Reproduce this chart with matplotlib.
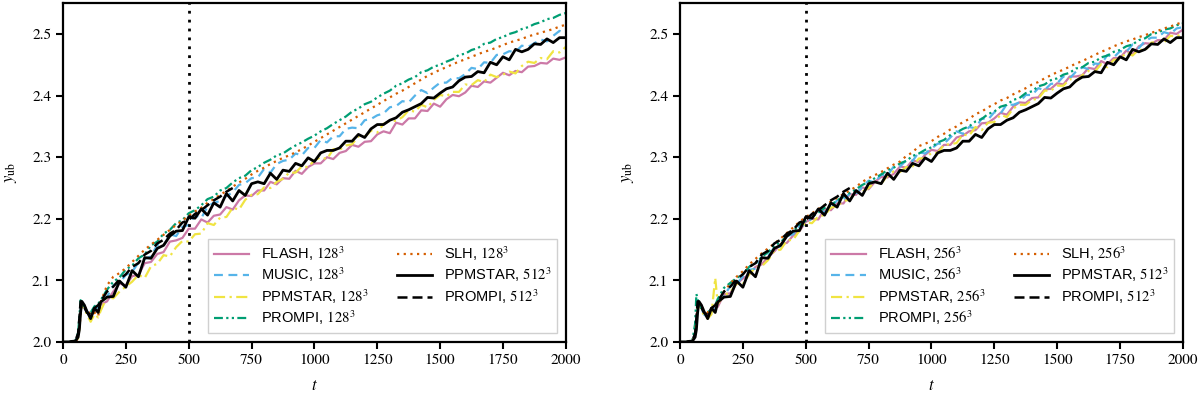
import numpy as np
import matplotlib.pyplot as plt
from matplotlib.font_manager import FontProperties

plt.rcParams['font.family'] = 'STIXGeneral'
plt.rcParams['mathtext.fontset'] = 'stix'

# time grid: dense around the initial kick, then every 25 time units
t = np.array([0, 25, 50, 60, 65, 70, 75, 85, 95, 110, 125, 140] + list(range(150, 2001, 25)))

# ---- 128^3 runs (left panel) ----
flash_128 = [2.000, 2.000, 2.002, 2.009, 2.028, 2.055, 2.064, 2.057, 2.048, 2.042, 2.050, 2.052,
             2.061, 2.066, 2.082, 2.095, 2.092, 2.107, 2.109, 2.128, 2.130, 2.143,
             2.146, 2.163, 2.165, 2.169, 2.184, 2.184, 2.199, 2.194, 2.205, 2.207,
             2.219, 2.215, 2.230, 2.238, 2.237, 2.246, 2.246, 2.260, 2.256, 2.266,
             2.265, 2.278, 2.273, 2.284, 2.290, 2.290, 2.300, 2.297, 2.307, 2.310,
             2.320, 2.317, 2.325, 2.326, 2.337, 2.342, 2.339, 2.356, 2.353, 2.363,
             2.363, 2.376, 2.375, 2.387, 2.382, 2.394, 2.401, 2.399, 2.405, 2.416,
             2.414, 2.423, 2.421, 2.429, 2.437, 2.433, 2.440, 2.438, 2.447, 2.448,
             2.453, 2.452, 2.460, 2.458, 2.462]
music_128 = [2.000, 2.000, 2.002, 2.010, 2.030, 2.058, 2.064, 2.058, 2.050, 2.045, 2.052, 2.058,
             2.063, 2.073, 2.092, 2.096, 2.109, 2.114, 2.129, 2.135, 2.139, 2.158,
             2.156, 2.175, 2.172, 2.187, 2.190, 2.206, 2.201, 2.220, 2.226, 2.229,
             2.237, 2.243, 2.255, 2.258, 2.266, 2.267, 2.281, 2.275, 2.289, 2.294,
             2.296, 2.306, 2.303, 2.315, 2.315, 2.328, 2.324, 2.334, 2.334, 2.346,
             2.348, 2.347, 2.360, 2.362, 2.368, 2.371, 2.381, 2.383, 2.391, 2.389,
             2.400, 2.409, 2.404, 2.413, 2.421, 2.421, 2.429, 2.428, 2.435, 2.445,
             2.443, 2.454, 2.453, 2.466, 2.467, 2.472, 2.471, 2.481, 2.479, 2.485,
             2.491, 2.488, 2.497, 2.505, 2.500]
ppmstar_128 = [2.000, 2.000, 2.001, 2.006, 2.022, 2.050, 2.062, 2.055, 2.045, 2.033, 2.045, 2.040,
               2.051, 2.073, 2.071, 2.082, 2.090, 2.098, 2.109, 2.104, 2.123, 2.127,
               2.141, 2.139, 2.154, 2.164, 2.163, 2.175, 2.176, 2.193, 2.190, 2.202,
               2.203, 2.218, 2.215, 2.231, 2.239, 2.240, 2.251, 2.250, 2.260, 2.265,
               2.275, 2.275, 2.285, 2.284, 2.295, 2.300, 2.297, 2.313, 2.312, 2.319,
               2.321, 2.334, 2.333, 2.343, 2.340, 2.354, 2.359, 2.359, 2.365, 2.376,
               2.374, 2.385, 2.381, 2.393, 2.401, 2.399, 2.406, 2.406, 2.418, 2.417,
               2.425, 2.422, 2.434, 2.430, 2.434, 2.439, 2.436, 2.448, 2.455, 2.453,
               2.461, 2.459, 2.472, 2.470, 2.479]
prompi_128 = [2.000, 2.000, 2.003, 2.015, 2.040, 2.068, 2.064, 2.055, 2.050, 2.048, 2.058, 2.062,
              2.068, 2.085, 2.098, 2.105, 2.118, 2.124, 2.136, 2.142, 2.157, 2.163,
              2.176, 2.182, 2.193, 2.198, 2.209, 2.214, 2.222, 2.232, 2.236, 2.246,
              2.250, 2.259, 2.266, 2.270, 2.279, 2.284, 2.291, 2.296, 2.303, 2.306,
              2.313, 2.319, 2.324, 2.330, 2.335, 2.342, 2.347, 2.354, 2.360, 2.366,
              2.374, 2.379, 2.386, 2.390, 2.397, 2.403, 2.408, 2.416, 2.420, 2.426,
              2.430, 2.438, 2.441, 2.447, 2.450, 2.455, 2.459, 2.466, 2.468, 2.474,
              2.477, 2.484, 2.486, 2.492, 2.495, 2.500, 2.503, 2.508, 2.511, 2.516,
              2.519, 2.524, 2.526, 2.531, 2.534]
slh_128 = [2.000, 2.000, 2.001, 2.006, 2.020, 2.045, 2.060, 2.058, 2.052, 2.045, 2.048, 2.042,
           2.065, 2.092, 2.106, 2.112, 2.120, 2.130, 2.140, 2.150, 2.158, 2.166,
           2.174, 2.182, 2.190, 2.197, 2.205, 2.212, 2.218, 2.226, 2.232, 2.239,
           2.245, 2.252, 2.259, 2.265, 2.272, 2.278, 2.283, 2.289, 2.294, 2.299,
           2.303, 2.308, 2.313, 2.319, 2.325, 2.331, 2.337, 2.343, 2.349, 2.355,
           2.361, 2.367, 2.373, 2.379, 2.385, 2.391, 2.397, 2.403, 2.408, 2.414,
           2.420, 2.426, 2.432, 2.437, 2.442, 2.446, 2.451, 2.455, 2.459, 2.463,
           2.467, 2.471, 2.474, 2.478, 2.482, 2.486, 2.489, 2.492, 2.496, 2.499,
           2.502, 2.505, 2.508, 2.512, 2.515]

# ---- 256^3 runs (right panel) ----
flash_256 = [2.000, 2.000, 2.002, 2.014, 2.038, 2.060, 2.064, 2.056, 2.048, 2.044, 2.052, 2.056,
             2.057, 2.078, 2.079, 2.095, 2.103, 2.110, 2.122, 2.126, 2.138, 2.147,
             2.159, 2.161, 2.173, 2.180, 2.195, 2.200, 2.199, 2.216, 2.214, 2.225,
             2.225, 2.240, 2.239, 2.251, 2.248, 2.260, 2.268, 2.267, 2.273, 2.285,
             2.283, 2.295, 2.292, 2.304, 2.312, 2.310, 2.320, 2.320, 2.332, 2.335,
             2.342, 2.344, 2.355, 2.356, 2.363, 2.372, 2.369, 2.382, 2.389, 2.388,
             2.396, 2.397, 2.410, 2.411, 2.420, 2.418, 2.431, 2.431, 2.433, 2.445,
             2.443, 2.456, 2.451, 2.461, 2.461, 2.473, 2.467, 2.480, 2.485, 2.484,
             2.490, 2.490, 2.502, 2.500, 2.507]
music_256 = [2.000, 2.000, 2.002, 2.015, 2.040, 2.060, 2.062, 2.055, 2.045, 2.040, 2.050, 2.054,
             2.067, 2.075, 2.091, 2.094, 2.107, 2.117, 2.119, 2.138, 2.140, 2.153,
             2.155, 2.172, 2.175, 2.189, 2.190, 2.202, 2.212, 2.211, 2.219, 2.230,
             2.231, 2.241, 2.241, 2.252, 2.262, 2.259, 2.272, 2.270, 2.285, 2.285,
             2.295, 2.294, 2.308, 2.306, 2.314, 2.322, 2.322, 2.332, 2.342, 2.338,
             2.349, 2.347, 2.363, 2.361, 2.373, 2.371, 2.386, 2.385, 2.389, 2.401,
             2.401, 2.412, 2.409, 2.419, 2.420, 2.431, 2.428, 2.439, 2.446, 2.443,
             2.452, 2.451, 2.466, 2.462, 2.472, 2.471, 2.483, 2.477, 2.489, 2.494,
             2.494, 2.503, 2.500, 2.509, 2.511]
ppmstar_256 = [2.000, 2.000, 2.002, 2.012, 2.035, 2.058, 2.062, 2.052, 2.044, 2.038, 2.045, 2.104,
               2.062, 2.076, 2.081, 2.095, 2.094, 2.110, 2.121, 2.123, 2.133, 2.148,
               2.150, 2.165, 2.166, 2.181, 2.194, 2.193, 2.204, 2.206, 2.218, 2.221,
               2.229, 2.231, 2.244, 2.244, 2.250, 2.260, 2.257, 2.270, 2.277, 2.276,
               2.284, 2.285, 2.298, 2.298, 2.307, 2.307, 2.320, 2.321, 2.323, 2.337,
               2.335, 2.349, 2.344, 2.356, 2.357, 2.369, 2.365, 2.379, 2.385, 2.385,
               2.393, 2.395, 2.408, 2.408, 2.416, 2.416, 2.427, 2.423, 2.433, 2.440,
               2.439, 2.451, 2.446, 2.458, 2.459, 2.470, 2.465, 2.475, 2.473, 2.486,
               2.487, 2.486, 2.497, 2.496, 2.501]
prompi_256 = [2.000, 2.000, 2.004, 2.030, 2.078, 2.070, 2.062, 2.055, 2.050, 2.048, 2.055, 2.060,
              2.070, 2.088, 2.096, 2.104, 2.110, 2.122, 2.128, 2.138, 2.146, 2.156,
              2.162, 2.172, 2.180, 2.190, 2.197, 2.204, 2.210, 2.218, 2.222, 2.230,
              2.236, 2.242, 2.248, 2.255, 2.260, 2.266, 2.272, 2.279, 2.283, 2.290,
              2.294, 2.302, 2.306, 2.312, 2.316, 2.324, 2.328, 2.336, 2.340, 2.346,
              2.350, 2.358, 2.362, 2.370, 2.374, 2.382, 2.385, 2.393, 2.396, 2.404,
              2.407, 2.415, 2.418, 2.425, 2.428, 2.434, 2.437, 2.444, 2.446, 2.453,
              2.455, 2.462, 2.465, 2.471, 2.474, 2.480, 2.483, 2.490, 2.493, 2.500,
              2.502, 2.507, 2.509, 2.514, 2.517]
slh_256 = [2.000, 2.000, 2.002, 2.012, 2.035, 2.055, 2.060, 2.058, 2.052, 2.048, 2.055, 2.060,
           2.065, 2.082, 2.095, 2.106, 2.115, 2.126, 2.135, 2.144, 2.152, 2.160,
           2.168, 2.177, 2.186, 2.195, 2.203, 2.209, 2.216, 2.222, 2.228, 2.234,
           2.240, 2.246, 2.252, 2.260, 2.266, 2.271, 2.276, 2.282, 2.288, 2.293,
           2.302, 2.308, 2.318, 2.322, 2.326, 2.333, 2.338, 2.345, 2.350, 2.357,
           2.362, 2.370, 2.374, 2.381, 2.386, 2.392, 2.396, 2.402, 2.407, 2.412,
           2.418, 2.422, 2.428, 2.433, 2.438, 2.442, 2.447, 2.452, 2.456, 2.461,
           2.466, 2.471, 2.475, 2.480, 2.484, 2.488, 2.491, 2.495, 2.498, 2.502,
           2.505, 2.509, 2.512, 2.516, 2.519]

# ---- 512^3 reference runs (both panels) ----
ppmstar_512 = [2.000, 2.000, 2.002, 2.008, 2.020, 2.048, 2.066, 2.060, 2.050, 2.038, 2.055, 2.048,
               2.065, 2.073, 2.074, 2.099, 2.089, 2.116, 2.106, 2.137, 2.136, 2.152,
               2.157, 2.172, 2.180, 2.181, 2.203, 2.201, 2.216, 2.206, 2.226, 2.219,
               2.241, 2.229, 2.246, 2.238, 2.257, 2.260, 2.257, 2.274, 2.264, 2.279,
               2.277, 2.290, 2.286, 2.299, 2.293, 2.307, 2.311, 2.311, 2.315, 2.326,
               2.326, 2.337, 2.332, 2.346, 2.353, 2.353, 2.360, 2.364, 2.373, 2.377,
               2.382, 2.387, 2.397, 2.396, 2.404, 2.411, 2.414, 2.424, 2.430, 2.431,
               2.439, 2.437, 2.454, 2.450, 2.463, 2.458, 2.475, 2.471, 2.475, 2.484,
               2.483, 2.492, 2.486, 2.494, 2.494]
# PROMPI 512^3 only runs up to t ~ 675
prompi_512 = [2.000, 2.000, 2.003, 2.014, 2.038, 2.066, 2.065, 2.056, 2.048, 2.044, 2.055, 2.060,
              2.066, 2.082, 2.090, 2.102, 2.110, 2.122, 2.128, 2.142, 2.148, 2.160,
              2.166, 2.176, 2.182, 2.194, 2.198, 2.208, 2.214, 2.222, 2.230, 2.236,
              2.244, 2.250]

codes = ['FLASH', 'MUSIC', 'PPMSTAR', 'PROMPI', 'SLH']
colors = ['#CC79A7', '#56B4E9', '#F0E442', '#009E73', '#D55E00']
styles = ['-', (0, (4, 2.5)), (0, (5, 2, 1, 2)), (0, (4, 1.5, 1, 1.5, 1, 1.5)), (0, (1, 2))]

left_runs = [flash_128, music_128, ppmstar_128, prompi_128, slh_128]
right_runs = [flash_256, music_256, ppmstar_256, prompi_256, slh_256]


def draw_panel(ax, runs, res):
    for name, y, c, ls in zip(codes, runs, colors, styles):
        ax.plot(t[:len(y)], y, color=c, ls=ls, lw=1.6, label=name + ', $' + res + '^3$')
    ax.plot(t[:len(ppmstar_512)], ppmstar_512, color='k', ls='-', lw=2.0, label='PPMSTAR, $512^3$')
    ax.plot(t[:len(prompi_512)], prompi_512, color='k', ls=(0, (4, 2)), lw=1.8, label='PROMPI, $512^3$')
    ax.axvline(500, color='k', ls=(0, (1, 2.2)), lw=2.0)

    ax.set_xlim(0, 2000)
    ax.set_ylim(2.0, 2.55)
    ax.set_xticks(np.arange(0, 2001, 250))
    ax.set_yticks([2.0, 2.1, 2.2, 2.3, 2.4, 2.5])
    ax.set_yticklabels(['2.0', '2.1', '2.2', '2.3', '2.4', '2.5'])
    ax.tick_params(direction='out', length=5, width=1.5, labelsize=11)
    for s in ax.spines.values():
        s.set_linewidth(1.6)
    ax.set_xlabel('$t$', fontsize=12)
    ax.set_ylabel(r'$y_\mathrm{ub}$', fontsize=12)
    ax.xaxis.set_label_coords(0.5, -0.105)
    ax.yaxis.set_label_coords(-0.088, 0.5)

    leg = ax.legend(loc='lower right', ncol=2, fancybox=False, framealpha=1,
                    prop=FontProperties(family='Liberation Sans', size=10.5),
                    handlelength=2.4, columnspacing=2.0, labelspacing=0.2,
                    borderaxespad=0.6)
    leg.get_frame().set_edgecolor('#d0d0d0')
    leg.get_frame().set_linewidth(1.0)


fig = plt.figure(figsize=(12, 3.95), dpi=100)
ax1 = fig.add_axes([0.0525, 0.134, 0.419, 0.858])
ax2 = fig.add_axes([0.5667, 0.134, 0.419, 0.858])

draw_panel(ax1, left_runs, '128')
draw_panel(ax2, right_runs, '256')

fig.savefig('out.png', dpi=100)
